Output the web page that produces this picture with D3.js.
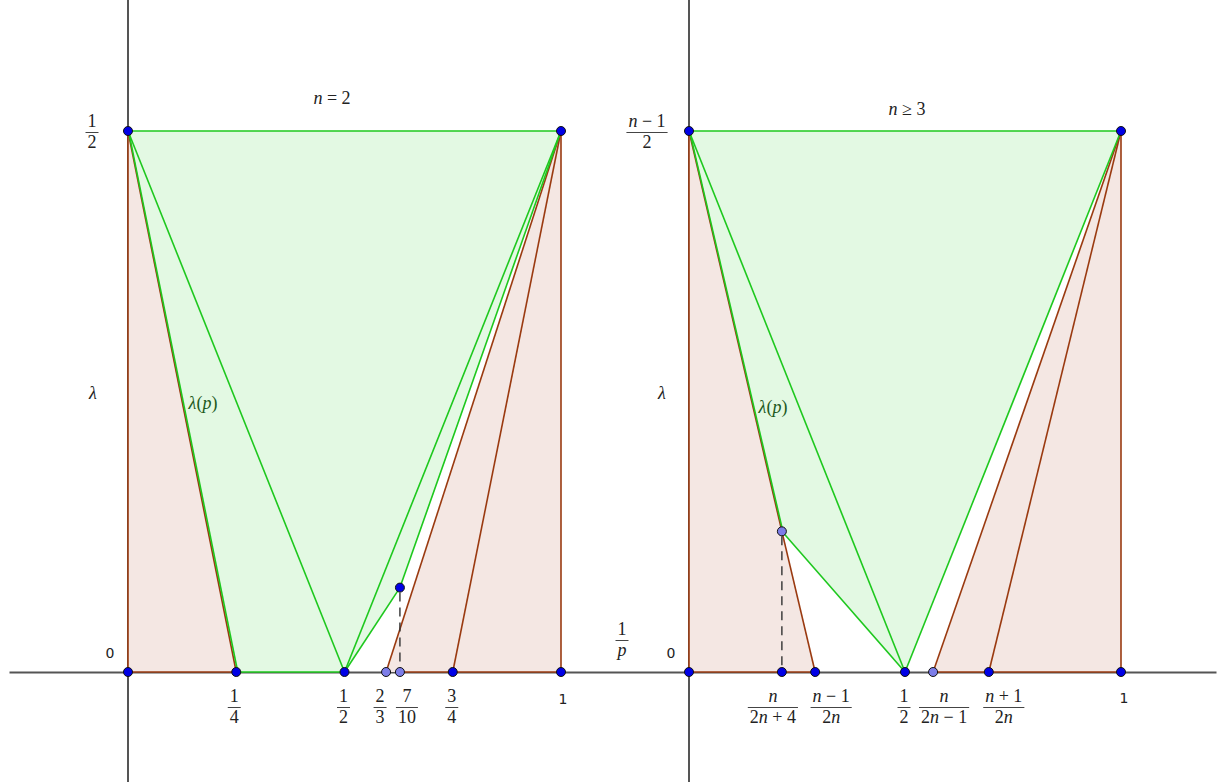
<!DOCTYPE html>
<html>
<head>
<meta charset="utf-8">
<script src="https://cdn.jsdelivr.net/npm/d3@7"></script>
<style>
  body { margin: 0; background: #fff; }
  svg { display: block; }
</style>
</head>
<body>
<svg id="chart" width="1217" height="782"></svg>
<script>
// values (schematic positions on the p axis, 0..1)
var lambdaTop = 0.5;

// left panel, n = 2
var leftTicks = [0.25, 0.5, 0.596, 0.628, 0.75];
var leftNum = ["1", "1", "2", "7", "3"];
var leftDen = ["4", "2", "3", "10", "4"];
var leftPeak = 0.078;   // lambda of the point above 7/10

// right panel, n >= 3
var rightTicks = [0.215, 0.292, 0.5, 0.565, 0.694];
var rightNum = ["n", "n − 1", "1", "n", "n + 1"];
var rightDen = ["2n + 4", "2n", "2", "2n − 1", "2n"];
var rightKnee = 0.130;  // lambda of the point above n/(2n+4)

var titles = ["n = 2", "n ≥ 3"];
var topLabels = [["1", "2"], ["n − 1", "2"]];

var GREEN = "#1ec81e", GREEN_FILL = "#e3f9e3";
var BROWN = "#9a3a10", BROWN_FILL = "#f4e7e3";
var DARK_PT = "#0000e6", LIGHT_PT = "#7d7de8";
var SERIF = "'Liberation Serif', 'DejaVu Serif', serif";

var svg = d3.select("#chart");

var y = d3.scaleLinear().domain([0, lambdaTop]).range([672, 131]);
var xL = d3.scaleLinear().domain([0, 1]).range([128, 561]);
var xR = d3.scaleLinear().domain([0, 1]).range([689, 1121]);

var line = d3.line();

// axes -- plain lines, no ticks
var xAll = d3.scaleLinear().domain([0, 1]).range([9, 1216]);
svg.append("g").attr("transform", "translate(0," + y(0) + ")")
    .call(d3.axisBottom(xAll).tickValues([]).tickSizeOuter(0))
    .select(".domain").attr("stroke", "#555").attr("stroke-width", 2);
[xL(0), xR(0)].forEach(function (x0) {
    svg.append("line").attr("x1", x0).attr("x2", x0).attr("y1", 0).attr("y2", 782)
        .attr("stroke", "#555").attr("stroke-width", 2);
});

// write a math string, letters in italic
function mathText(sel, str) {
    str.split(/([a-zλ]+)/).forEach(function (part) {
        if (!part) return;
        var t = sel.append("tspan").text(part);
        if (/[a-zλ]/.test(part)) t.attr("font-style", "italic");
    });
    return sel;
}

function fraction(g, cx, yNum, num, den) {
    var f = g.append("g").attr("font-family", SERIF).attr("font-size", 18).attr("fill", "#222");
    var a = mathText(f.append("text").attr("x", cx).attr("y", yNum).attr("text-anchor", "middle"), num);
    var b = mathText(f.append("text").attr("x", cx).attr("y", yNum + 21).attr("text-anchor", "middle"), den);
    var w = Math.max(a.node().getComputedTextLength(), b.node().getComputedTextLength()) + 4;
    f.append("line").attr("x1", cx - w / 2).attr("x2", cx + w / 2)
        .attr("y1", yNum + 5.5).attr("y2", yNum + 5.5)
        .attr("stroke", "#444").attr("stroke-width", 1);
}

function panel(x, ticks, kneeX, kneeY, opts) {
    var g = svg.append("g");
    var P = function (px, py) { return [x(px), y(py)]; };
    var K = P(kneeX, kneeY), K0 = P(kneeX, 0);

    // fills
    opts.brownFills.forEach(function (poly) {
        g.append("path").attr("d", line(poly(P, K)) + "Z").attr("fill", BROWN_FILL);
    });
    g.append("path").attr("d", line(opts.greenFill(P, K)) + "Z").attr("fill", GREEN_FILL);

    // edges
    opts.brownLines(P, K).forEach(function (s) {
        g.append("path").attr("d", line(s)).attr("stroke", BROWN).attr("stroke-width", 1.6).attr("fill", "none");
    });
    opts.greenLines(P, K).forEach(function (s) {
        g.append("path").attr("d", line(s)).attr("stroke", GREEN).attr("stroke-width", 1.6).attr("fill", "none");
    });

    g.append("line").attr("x1", K[0]).attr("x2", K0[0]).attr("y1", K[1] + 5).attr("y2", K0[1])
        .attr("stroke", "#333").attr("stroke-width", 1.4).attr("stroke-dasharray", "9,6");

    // points
    opts.points(P, K).forEach(function (p) {
        g.append("circle").attr("cx", p[0][0]).attr("cy", p[0][1]).attr("r", 4.5)
            .attr("fill", p[1] ? LIGHT_PT : DARK_PT).attr("stroke", "#111").attr("stroke-width", 1);
    });
    return g;
}

// left panel
var L = leftTicks;
panel(xL, L, L[3], leftPeak, {
    brownFills: [
        function (P) { return [P(0, 0), P(0, lambdaTop), P(L[0], 0)]; },
        function (P) { return [P(L[2], 0), P(1, lambdaTop), P(1, 0)]; }
    ],
    greenFill: function (P, K) { return [P(0, lambdaTop), P(1, lambdaTop), K, P(L[1], 0), P(L[0], 0)]; },
    brownLines: function (P) {
        return [[P(0, 0), P(0, lambdaTop)], [P(0, lambdaTop), P(L[0], 0)], [P(0, 0), P(L[0], 0)],
            [P(L[2], 0), P(1, lambdaTop)], [P(L[4], 0), P(1, lambdaTop)], [P(1, 0), P(1, lambdaTop)],
            [P(L[3], 0), P(1, 0)]];
    },
    greenLines: function (P, K) {
        return [[P(0, lambdaTop), P(1, lambdaTop)], [[P(0, lambdaTop)[0] + 0.5, P(0, lambdaTop)[1]], [P(L[0], 0)[0] + 1.5, P(L[0], 0)[1]]],
            [P(0, lambdaTop), P(L[1], 0)], [P(L[0], 0), P(L[1], 0)], [P(L[1], 0), K], [K, P(1, lambdaTop)],
            [P(L[1], 0), P(1, lambdaTop)]];
    },
    points: function (P, K) {
        return [[P(0, 0)], [P(0, lambdaTop)], [P(1, lambdaTop)], [P(L[0], 0)], [P(L[1], 0)],
            [P(L[4], 0)], [P(1, 0)], [K], [P(L[2], 0), true], [P(L[3], 0), true]];
    }
});

// right panel
var R = rightTicks;
panel(xR, R, R[0], rightKnee, {
    brownFills: [
        function (P, K) { return [P(0, 0), P(0, lambdaTop), K, P(R[1], 0)]; },
        function (P) { return [P(R[3], 0), P(1, lambdaTop), P(1, 0)]; }
    ],
    greenFill: function (P, K) { return [P(0, lambdaTop), P(1, lambdaTop), P(R[2], 0), K]; },
    brownLines: function (P, K) {
        return [[P(0, 0), P(0, lambdaTop)], [P(0, lambdaTop), K], [K, P(R[1], 0)], [P(0, 0), P(R[1], 0)],
            [P(R[3], 0), P(1, lambdaTop)], [P(R[4], 0), P(1, lambdaTop)], [P(1, 0), P(1, lambdaTop)],
            [P(R[3], 0), P(1, 0)]];
    },
    greenLines: function (P, K) {
        return [[P(0, lambdaTop), P(1, lambdaTop)], [[P(0, lambdaTop)[0] + 0.5, P(0, lambdaTop)[1]], [K[0] + 1, K[1]]],
            [K, P(R[2], 0)], [P(0, lambdaTop), P(R[2], 0)], [P(R[2], 0), P(1, lambdaTop)]];
    },
    points: function (P, K) {
        return [[P(0, 0)], [P(0, lambdaTop)], [P(1, lambdaTop)], [P(R[0], 0)], [P(R[1], 0)],
            [P(R[2], 0)], [P(R[4], 0)], [P(1, 0)], [K, true], [P(R[3], 0), true]];
    }
});

// tick labels under the axis
var labels = svg.append("g");
var leftShift = [-2, -1, -6, 7, -1];
L.forEach(function (v, i) { fraction(labels, xL(v) + leftShift[i], 702, leftNum[i], leftDen[i]); });
var rightShift = [-9, 16, -1, 11, 15];
R.forEach(function (v, i) { fraction(labels, xR(v) + rightShift[i], 702, rightNum[i], rightDen[i]); });

// 0 and 1 in sans
[[xL(0) - 18, 658, "0"], [xR(0) - 18, 658, "0"], [xL(1) + 2, 704, "1"], [xR(1) + 3, 703, "1"]]
    .forEach(function (d) {
        svg.append("text").attr("x", d[0]).attr("y", d[1]).attr("text-anchor", "middle")
            .attr("font-family", "'DejaVu Sans', sans-serif").attr("font-size", 14).attr("fill", "#222").text(d[2]);
    });

// top-of-axis labels
fraction(labels, 92, 127, topLabels[0][0], topLabels[0][1]);
fraction(labels, 647, 127, topLabels[1][0], topLabels[1][1]);
fraction(labels, 622, 635, "1", "p");

// titles and axis names
[[332, 104, titles[0]], [907, 115, titles[1]], [93, 399, "λ"], [662, 399, "λ"]].forEach(function (d) {
    mathText(svg.append("text").attr("x", d[0]).attr("y", d[1]).attr("text-anchor", "middle")
        .attr("font-family", SERIF).attr("font-size", 18).attr("fill", "#222"), d[2]);
});
[[203, 409], [773, 413]].forEach(function (d) {
    mathText(svg.append("text").attr("x", d[0]).attr("y", d[1]).attr("text-anchor", "middle")
        .attr("font-family", SERIF).attr("font-size", 18).attr("fill", "#1d5a1d"), "λ(p)");
});
</script>
</body>
</html>
